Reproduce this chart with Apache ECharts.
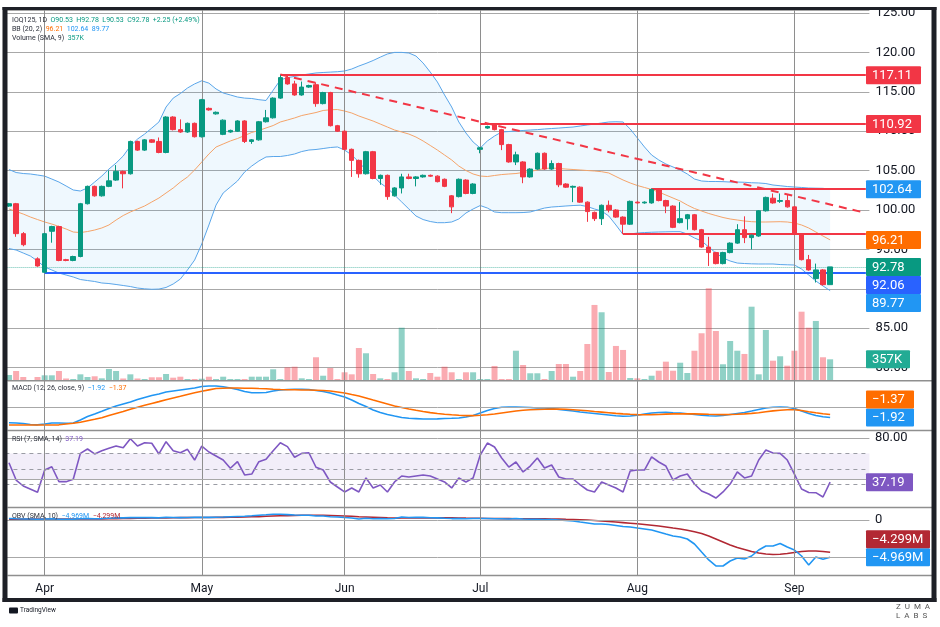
<!DOCTYPE html>
<html>
<head>
<meta charset="utf-8">
<script src="https://cdn.jsdelivr.net/npm/echarts@6/dist/echarts.min.js"></script>
<style>
  html, body { margin: 0; padding: 0; background: #fff; }
  #chart { width: 940px; height: 627px; }
</style>
</head>
<body>
<div id="chart"></div>
<script>
// daily bars, months in order
const monthNames = ['Mar', 'Apr', 'May', 'Jun', 'Jul', 'Aug', 'Sep'];
const monthCounts = [5, 22, 20, 19, 22, 22, 6];
const rightPad = 5;

const opens = [100.5, 100.8, 97.0, null, 93.8, 92.1, 97.3, 97.9, 93.7, 93.6,
  94.1, 100.8, 103.0, 101.8, 103.0, 103.8, 104.9, 104.6, 108.7, 107.6,
  108.9, 108.7, 107.3, 111.8, 110.2, 109.9, 111.0, 109.3, 112.9, 112.2,
  109.6, 109.9, 110.0, 111.3, 108.7, 108.9, 111.2, 111.7, 114.2, 116.8,
  116.0, 114.6, 115.6, 115.9, 113.5, 114.9, 110.7, 110.0, 107.7, 106.3,
  104.6, 107.4, 104.0, 104.4, 101.8, 102.8, 104.2, 104.0, 104.2, 104.4,
  104.3, 103.9, 101.8, 101.7, 103.8, 102.1, 107.7, 110.4, 110.9, 110.2,
  108.3, 106.1, 106.1, 104.2, 105.2, 107.2, 105.2, 105.9, 103.3, 102.9,
  102.9, 101.0, 99.7, 98.9, 100.6, 100.0, 99.1, 98.2, 101.0, 100.9,
  100.9, 102.6, 101.2, 100.5, 98.4, 98.9, 99.4, 97.5, 95.3, 94.6,
  93.2, 94.6, 95.8, 97.5, 96.5, 96.7, 99.9, 101.5, 101.1, 101.2,
  100.4, 96.9, 93.7, 91.3, 92.4, 90.53];
const closes = [100.8, 97.0, 95.6, null, 92.9, 97.0, 97.9, 93.6, 93.6, 94.1,
  100.8, 103.0, 101.8, 103.0, 103.7, 104.9, 104.6, 108.7, 107.6, 108.9,
  108.6, 107.3, 111.8, 110.2, 109.9, 111.0, 109.3, 114.0, 112.7, 112.4,
  111.4, 110.1, 111.3, 108.7, 108.9, 111.2, 111.7, 114.2, 116.8, 116.0,
  114.6, 115.6, 115.8, 113.5, 114.9, 110.7, 110.0, 107.7, 106.3, 104.6,
  107.4, 104.0, 104.4, 101.7, 102.8, 104.2, 104.0, 104.2, 104.4, 104.3,
  103.6, 103.0, 100.4, 103.9, 102.1, 103.3, 107.9, 110.6, 110.2, 108.3,
  106.1, 107.0, 104.2, 105.2, 107.2, 105.2, 105.9, 103.2, 102.9, 103.0,
  101.0, 99.8, 98.9, 100.6, 100.0, 99.1, 98.2, 101.1, 100.9, 101.0,
  102.6, 101.2, 100.5, 97.8, 98.9, 99.4, 97.5, 95.3, 94.6, 93.2,
  94.6, 95.8, 97.5, 96.5, 96.8, 99.9, 101.6, 100.9, 101.2, 100.4,
  97.0, 93.7, 92.4, 92.4, 90.53, 92.78];
const lows = [100.4, 96.6, 95.4, null, 92.8, 92.06, 95.85, 93.5, 93.5, 93.5,
  94.0, 100.7, 101.7, 101.7, 102.9, 103.7, 102.75, 104.5, 107.5, 107.5,
  108.5, 107.2, 107.2, 110.1, 109.8, 109.8, 109.2, 109.2, 112.6, 112.1,
  109.5, 109.8, 109.9, 108.5, 108.4, 108.8, 111.1, 111.6, 114.1, 115.9,
  114.5, 114.5, 115.5, 113.1, 113.4, 110.6, 109.9, 107.6, 104.2, 104.1,
  104.5, 103.9, 103.2, 101.3, 101.7, 102.1, 103.9, 103.0, 104.1, 104.2,
  103.5, 102.9, 99.6, 101.6, 102.0, 102.0, 107.2, 110.3, 110.1, 107.6,
  106.0, 105.7, 103.4, 104.1, 105.1, 105.1, 105.1, 102.9, 102.8, 101.0,
  100.9, 98.5, 98.6, 98.1, 99.7, 99.0, 96.95, 98.1, 100.8, 100.8,
  100.8, 101.1, 99.6, 97.7, 98.3, 97.5, 97.4, 95.2, 92.9, 93.1,
  93.1, 94.5, 95.7, 95.8, 95.0, 96.6, 99.8, 100.8, 100.9, 100.3,
  96.9, 93.6, 92.3, 90.8, 90.4, 90.53];
const highs = [100.9, 100.9, 97.2, null, 94.0, 97.1, 98.0, 98.0, 93.8, 94.2,
  100.9, 103.1, 103.1, 103.1, 105.0, 105.7, 105.0, 108.8, 108.8, 109.0,
  109.0, 109.2, 111.9, 111.9, 111.5, 111.1, 111.1, 114.1, 113.0, 112.5,
  111.5, 110.2, 111.4, 111.4, 109.0, 111.3, 112.7, 114.3, 117.11, 117.0,
  116.4, 116.3, 115.9, 116.2, 115.0, 115.0, 110.8, 110.1, 107.8, 106.4,
  107.5, 107.5, 104.5, 104.5, 102.9, 104.6, 104.6, 104.3, 104.5, 104.5,
  104.4, 104.0, 101.9, 104.0, 103.9, 103.4, 108.0, 110.7, 110.92, 110.3,
  108.4, 107.4, 106.2, 105.3, 107.3, 107.3, 106.3, 106.0, 103.4, 103.1,
  103.0, 101.1, 99.8, 100.7, 101.2, 100.1, 99.2, 101.2, 101.1, 101.1,
  102.75, 102.7, 101.3, 100.6, 101.0, 99.5, 99.5, 97.6, 96.6, 94.7,
  94.7, 95.9, 98.2, 99.2, 96.9, 100.0, 101.7, 102.1, 102.1, 101.9,
  100.5, 97.0, 94.3, 93.2, 92.5, 92.78];

// volume, thousands
const volumes = [86, 155, 52, 0, 52, 81, 81, 155, 26, 17,
  98, 52, 64, 29, 190, 155, 26, 98, 26, 17,
  47, 47, 104, 40, 57, 17, 17, 22, 57, 17,
  57, 17, 17, 17, 57, 57, 57, 185, 17, 219,
  229, 29, 17, 392, 74, 207, 17, 133, 98, 552,
  461, 104, 29, 17, 133, 902, 155, 29, 17, 121,
  57, 229, 133, 17, 133, 133, 17, 17, 242, 17,
  17, 505, 259, 116, 116, 17, 155, 276, 276, 57,
  155, 621, 1294, 1168, 138, 587, 518, 35, 29, 17,
  74, 160, 316, 160, 298, 121, 505, 806, 1582, 845,
  271, 673, 505, 449, 1264, 98, 863, 333, 409, 247,
  505, 1178, 902, 1018, 392, 357];

// Bollinger (20, 2)
const bbUpper = [105.14, 104.76, 104.63, 104.57, 104.44, 104.3, 103.93, 103.55, 103.05, 102.54,
  102.41, 102.8, 103.55, 104.31, 105.2, 105.96, 106.85, 108.12, 109.0, 109.64,
  110.4, 111.17, 113.07, 114.2, 114.78, 115.48, 116.0, 116.4, 116.1, 115.36,
  114.85, 114.6, 114.34, 114.2, 114.15, 114.0, 113.9, 115.2, 116.5, 116.8,
  116.95, 117.13, 117.26, 117.39, 117.45, 117.5, 117.55, 117.64, 117.89, 118.27,
  118.6, 118.97, 119.4, 119.8, 120.0, 120.0, 119.92, 119.54, 118.65, 117.5,
  116.24, 114.6, 113.07, 111.17, 109.77, 108.63, 107.87, 108.76, 109.39, 109.9,
  109.96, 110.03, 110.09, 110.15, 110.2, 110.28, 110.34, 110.4, 110.47, 110.53,
  110.66, 110.79, 110.91, 111.04, 111.17, 111.2, 111.17, 110.28, 109.14, 108.0,
  106.98, 106.35, 105.84, 105.46, 105.08, 104.57, 103.93, 103.68, 103.62, 103.62,
  103.6, 103.55, 103.55, 103.52, 103.46, 103.43, 103.36, 103.17, 103.08, 102.98,
  102.92, 102.86, 102.79, 102.77, 102.75, 102.64];
const bbLower = [95.11, 94.92, 94.54, 94.16, 93.53, 92.77, 92.39, 92.0, 91.75, 91.5,
  91.18, 91.05, 90.93, 90.74, 90.67, 90.55, 90.42, 90.29, 90.1, 90.0,
  89.94, 89.97, 90.17, 90.61, 91.24, 92.39, 93.65, 95.69, 98.1, 100.63,
  102.16, 102.92, 103.68, 104.82, 105.58, 106.22, 106.73, 106.79, 106.79, 106.92,
  107.11, 107.42, 107.61, 107.68, 107.8, 107.93, 108.0, 107.61, 106.98, 106.09,
  105.08, 104.31, 103.43, 102.79, 101.9, 101.02, 100.13, 99.24, 98.79, 98.54,
  98.39, 98.39, 98.48, 98.86, 99.62, 100.13, 100.57, 100.25, 99.75, 99.66,
  99.66, 99.66, 99.68, 99.75, 100.0, 100.25, 100.38, 100.44, 100.51, 100.57,
  100.61, 100.44, 100.13, 99.87, 99.24, 98.1, 96.89, 96.95, 97.08, 97.14,
  97.18, 97.21, 97.23, 97.25, 97.25, 96.95, 96.45, 96.07, 95.3, 94.54,
  93.91, 93.53, 93.27, 93.21, 93.17, 93.15, 93.15, 93.15, 93.08, 93.05,
  93.02, 92.51, 91.75, 90.99, 90.36, 89.77];
const bbBasis = [100.13, 99.81, 99.49, 99.11, 98.79, 98.48, 98.22, 97.91, 97.59, 97.21,
  97.14, 97.27, 97.46, 97.72, 98.1, 98.73, 99.3, 99.75, 100.13, 100.51,
  101.02, 101.52, 102.16, 102.79, 103.55, 104.19, 105.08, 106.09, 107.11, 107.99,
  108.38, 108.76, 109.07, 109.45, 109.84, 110.09, 110.41, 110.72, 111.17, 111.42,
  111.68, 111.99, 112.18, 112.37, 112.63, 112.72, 112.75, 112.56, 112.31, 111.93,
  111.61, 111.29, 110.91, 110.53, 110.15, 109.9, 109.64, 109.26, 108.76, 108.19,
  107.61, 106.98, 106.35, 105.58, 105.01, 104.57, 104.31, 104.25, 104.38, 104.5,
  104.57, 104.63, 104.76, 104.89, 105.08, 105.27, 105.33, 105.27, 105.2, 105.14,
  105.08, 105.01, 104.95, 104.86, 104.7, 104.25, 103.81, 103.43, 103.11, 102.86,
  102.6, 102.28, 101.9, 101.52, 101.14, 100.63, 100.19, 99.87, 99.56, 99.3,
  99.05, 98.86, 98.73, 98.6, 98.52, 98.48, 98.48, 98.5, 98.52, 98.48,
  98.35, 98.1, 97.72, 97.21, 96.7, 96.21];

// MACD (12, 26, close, 9)
const macdLine = [-2.85, -2.91, -3.0, -3.18, -3.24, -3.09, -2.91, -2.91, -2.96, -2.91,
  -2.36, -1.73, -1.27, -0.78, -0.27, 0.18, 0.55, 0.91, 1.36, 1.73,
  2.09, 2.36, 2.73, 2.91, 3.09, 3.27, 3.45, 3.73, 3.82, 3.82,
  3.67, 3.45, 3.18, 2.82, 2.6, 2.6, 2.64, 2.91, 3.09, 3.18,
  3.22, 3.22, 3.18, 3.0, 2.82, 2.55, 2.18, 1.82, 1.27, 0.64,
  0.09, -0.55, -1.0, -1.36, -1.64, -1.91, -2.04, -2.11, -2.18, -2.18,
  -2.15, -2.09, -2.05, -2.0, -1.82, -1.55, -1.09, -0.64, -0.27, -0.05,
  0, 0, -0.04, -0.09, -0.18, -0.18, -0.27, -0.45, -0.58, -0.73,
  -0.91, -1.05, -1.18, -1.31, -1.45, -1.6, -1.69, -1.64, -1.51, -1.27,
  -1.09, -1.0, -0.96, -1.05, -1.09, -1.24, -1.36, -1.49, -1.6, -1.64,
  -1.55, -1.36, -1.18, -1.0, -0.73, -0.45, -0.18, -0.04, 0, -0.05,
  -0.27, -0.73, -1.18, -1.55, -1.78, -1.92];
const macdSignal = [-3.27, -3.27, -3.27, -3.27, -3.27, -3.27, -3.27, -3.24, -3.09, -2.96,
  -2.78, -2.49, -2.24, -1.95, -1.56, -1.18, -0.8, -0.4, -0.04, 0.31,
  0.65, 0.98, 1.33, 1.64, 1.95, 2.29, 2.58, 2.85, 3.11, 3.35,
  3.42, 3.45, 3.45, 3.42, 3.42, 3.36, 3.31, 3.24, 3.18, 3.15,
  3.13, 3.09, 3.09, 3.05, 3.0, 2.91, 2.73, 2.55, 2.27, 2.0,
  1.64, 1.27, 0.91, 0.55, 0.18, -0.09, -0.36, -0.6, -0.82, -1.02,
  -1.18, -1.31, -1.42, -1.51, -1.56, -1.56, -1.51, -1.4, -1.27, -1.09,
  -0.91, -0.73, -0.6, -0.51, -0.44, -0.4, -0.36, -0.38, -0.42, -0.49,
  -0.58, -0.69, -0.82, -0.93, -1.04, -1.15, -1.25, -1.33, -1.38, -1.4,
  -1.38, -1.35, -1.29, -1.25, -1.24, -1.24, -1.25, -1.29, -1.33, -1.36,
  -1.38, -1.36, -1.33, -1.25, -1.16, -1.04, -0.87, -0.71, -0.58, -0.51,
  -0.51, -0.64, -0.85, -1.05, -1.24, -1.37];

// RSI (7)
const rsi = [56.1, 39.3, 33.5, null, 27.4, 49, 52.2, 37.7, 37.7, 40,
  65.2, 69.4, 64.6, 67.8, 70.1, 72.3, 70.7, 79.4, 72.3, 75.5,
  75, 64.6, 76.5, 67.8, 65.8, 69.1, 58.7, 72.3, 66.5, 62.6,
  58.7, 50.7, 57.1, 44.2, 45.1, 57.1, 59.4, 67.8, 75.5, 71.7,
  61.4, 65.2, 65.8, 51.7, 49, 37.4, 32.5, 27.7, 31.6, 27.7,
  41.3, 31.6, 34.5, 27.7, 37.4, 43.2, 42.2, 43.2, 44.2, 43.2,
  40.3, 37.4, 31.6, 41.3, 37.4, 41.3, 63.6, 75.2, 71.4, 60.7,
  51.9, 56.8, 47.1, 52.9, 60.7, 51, 53.9, 42.2, 40.3, 40.3,
  34.5, 29.6, 27.7, 37.4, 34.5, 31.6, 27.7, 48.1, 49, 49,
  61.7, 56.8, 52.9, 39.3, 43.2, 45.1, 35.4, 28.6, 25.7, 21.8,
  27.7, 35.4, 47.1, 41.3, 43.2, 58.7, 68.4, 65.5, 65.2, 58.7,
  45.1, 30.6, 27.2, 27, 22.8, 37.19];
const rsiBands = [65, 50, 35];

// OBV, millions
const obv = [0.2, 0.16, 0.13, 0.13, 0.09, 0.13, 0.16, 0.11, 0.09, 0.12,
  0.16, 0.19, 0.16, 0.19, 0.24, 0.29, 0.28, 0.32, 0.32, 0.33,
  0.32, 0.29, 0.35, 0.33, 0.32, 0.33, 0.35, 0.36, 0.35, 0.36,
  0.39, 0.43, 0.47, 0.51, 0.56, 0.63, 0.69, 0.76, 0.76, 0.72,
  0.67, 0.64, 0.64, 0.53, 0.53, 0.44, 0.4, 0.33, 0.27, 0.13,
  0.23, 0.17, 0.19, 0.17, 0.21, 0.4, 0.33, 0.35, 0.35, 0.31,
  0.28, 0.23, 0.19, 0.2, 0.16, 0.2, 0.21, 0.2, 0.16, 0.16,
  0.13, 0.2, 0.13, 0.11, 0.11, 0.07, 0.07, 0, -0.07, -0.13,
  -0.27, -0.4, -0.53, -0.53, -0.6, -0.73, -0.87, -0.93, -1.07, -1.2,
  -1.33, -1.6, -1.87, -2.13, -2.27, -2.53, -3.2, -4.27, -5.33, -6.13,
  -6.13, -5.47, -5.07, -5.2, -4.8, -4.0, -3.47, -3.47, -3.13, -3.6,
  -4.0, -4.8, -6.0, -4.93, -5.24, -4.969];
const obvSma = [0.09, 0.11, 0.12, 0.12, 0.12, 0.13, 0.13, 0.13, 0.13, 0.13,
  0.13, 0.15, 0.15, 0.15, 0.16, 0.19, 0.2, 0.21, 0.24, 0.25,
  0.27, 0.28, 0.29, 0.31, 0.32, 0.32, 0.33, 0.33, 0.33, 0.35,
  0.35, 0.36, 0.37, 0.4, 0.43, 0.45, 0.49, 0.53, 0.56, 0.59,
  0.61, 0.63, 0.64, 0.64, 0.63, 0.6, 0.57, 0.53, 0.49, 0.44,
  0.4, 0.36, 0.32, 0.28, 0.25, 0.27, 0.27, 0.28, 0.28, 0.28,
  0.29, 0.29, 0.28, 0.27, 0.25, 0.24, 0.23, 0.21, 0.2, 0.19,
  0.19, 0.17, 0.17, 0.16, 0.16, 0.15, 0.13, 0.12, 0.09, 0.07,
  0.03, -0.01, -0.07, -0.13, -0.2, -0.27, -0.35, -0.43, -0.51, -0.6,
  -0.69, -0.8, -0.93, -1.07, -1.2, -1.37, -1.57, -1.8, -2.13, -2.53,
  -2.93, -3.33, -3.67, -3.93, -4.2, -4.4, -4.53, -4.6, -4.57, -4.47,
  -4.33, -4.2, -4.13, -4.13, -4.2, -4.299];

// drawn levels: [start bar, price]
const redLevels = [[38, 117.11], [66, 110.92], [90, 102.75], [86, 96.95]];
const supportLevel = [5, 92.06];
const trendLine = [[38, 117.2], [120, 99.63]];
const lastClose = 92.78;

const priceTags = [
  [117.11, '117.11', '#f23645'], [110.92, '110.92', '#f23645'], [102.64, '102.64', '#2196f3'],
  [96.21, '96.21', '#ff6d00'], [92.78, '92.78', '#089981'], [92.06, '92.06', '#2962ff'],
  [89.77, '89.77', '#2196f3']
];
const macdTags = [[-1.92, '\u22121.92', '#2196f3'], [-1.37, '\u22121.37', '#ff6d00']];
const obvTags = [[-4.969, '\u22124.969M', '#2196f3'], [-4.299, '\u22124.299M', '#b22833']];

// ---------------------------------------------------------------
const UP = '#089981', DOWN = '#f23645';
const FONT = 'Roboto';

const categories = [];
const monthStarts = [];
monthNames.forEach((m, k) => {
  if (k > 0) monthStarts.push(categories.length);
  for (let d = 1; d <= monthCounts[k]; d++) categories.push(m + ' ' + d);
});
for (let i = 0; i < rightPad; i++) categories.push('pad ' + i);

const candleData = opens.map((o, i) => o == null ? '-' : [o, closes[i], lows[i], highs[i]]);
const volData = volumes.map((v, i) => ({
  value: v || '-',
  itemStyle: { color: closes[i] >= opens[i] ? 'rgba(8,153,129,0.45)' : 'rgba(242,54,69,0.42)' }
}));
const bbWidth = bbUpper.map((u, i) => +(u - bbLower[i]).toFixed(2));

const monthLines = monthStarts.map(i => ({ xAxis: i }));
const gridLine = { color: '#a8a8a8', width: 1, type: 'solid' };
function hLines(values, style) {
  return values.map(v => ({ yAxis: v, lineStyle: style }));
}
function markLines(data) {
  return {
    silent: true, symbol: 'none', animation: false,
    label: { show: false },
    lineStyle: { color: '#8e8e8e', width: 1, type: 'solid' },
    data: data
  };
}

const grids = [
  { left: 5.4, right: 70.6, top: 10, height: 370 },
  { left: 5.4, right: 70.6, top: 381, height: 49 },
  { left: 5.4, right: 70.6, top: 431, height: 76 },
  { left: 5.4, right: 70.6, top: 508, height: 67 }
];

const xAxes = grids.map((g, k) => ({
  type: 'category', gridIndex: k, data: categories, boundaryGap: true,
  axisLine: { show: false }, axisTick: { show: false }, splitLine: { show: false },
  axisLabel: k === 3 ? {
    interval: (i) => monthStarts.includes(i),
    formatter: (v) => v.split(' ')[0],
    color: '#131722', fontSize: 12, margin: 8, fontFamily: FONT
  } : { show: false }
}));

const option = {
  animation: false,
  backgroundColor: '#fff',
  textStyle: { fontFamily: FONT },
  grid: grids,
  xAxis: xAxes,
  yAxis: [
    {
      gridIndex: 0, type: 'value', position: 'right', min: 78.43, max: 125.38, splitNumber: 9,
      axisLine: { show: false }, axisTick: { show: false },
      axisLabel: {
        formatter: (v) => Math.abs(v / 5 - Math.round(v / 5)) < 1e-6 ? v.toFixed(2) : '',
        color: '#131722', fontSize: 13, margin: 6, fontFamily: FONT
      },
      splitLine: { lineStyle: { color: '#a8a8a8' } }
    },
    { gridIndex: 0, type: 'value', min: 0, max: 6380, show: false },
    { gridIndex: 1, type: 'value', min: -4.18, max: 4.727, show: false },
    { gridIndex: 2, type: 'value', min: 13.1, max: 86.9, show: false },
    { gridIndex: 3, type: 'value', min: -7.333, max: 1.6, show: false }
  ],
  series: [
    {
      type: 'line', data: bbLower, stack: 'bb', symbol: 'none', silent: true, z: 1,
      lineStyle: { opacity: 0 },
      markLine: markLines(monthLines)
    },
    {
      type: 'line', data: bbWidth, stack: 'bb', symbol: 'none', silent: true, z: 1,
      lineStyle: { opacity: 0 }, areaStyle: { color: 'rgba(33,150,243,0.07)', opacity: 1 }
    },
    {
      type: 'bar', xAxisIndex: 0, yAxisIndex: 1, data: volData, barWidth: 6, silent: true, z: 2
    },
    {
      type: 'line', data: bbUpper, symbol: 'none', silent: true, z: 3,
      lineStyle: { color: '#5aa6ea', width: 1 }
    },
    {
      type: 'line', data: bbLower, symbol: 'none', silent: true, z: 3,
      lineStyle: { color: '#5aa6ea', width: 1 }
    },
    {
      type: 'line', data: bbBasis, symbol: 'none', silent: true, z: 3,
      lineStyle: { color: '#f5a46a', width: 1 }
    },
    {
      type: 'candlestick', data: candleData, barWidth: 5, silent: true, z: 5,
      itemStyle: { color: UP, color0: DOWN, borderColor: UP, borderColor0: DOWN, borderWidth: 1 },
      markLine: markLines([
        ...redLevels.map(([s, p]) => [
          { coord: [s, p], lineStyle: { color: '#f23645', width: 2 } },
          { coord: [categories.length - 1, p] }
        ]),
        [
          { coord: supportLevel, lineStyle: { color: '#2962ff', width: 2 } },
          { coord: [categories.length - 1, supportLevel[1]] }
        ],
        [
          { coord: trendLine[0], lineStyle: { color: '#f23645', width: 2, type: [8, 6] } },
          { coord: trendLine[1] }
        ],
        { yAxis: lastClose, lineStyle: { color: '#089981', width: 1, type: 'dotted', opacity: 0.6 } }
      ])
    },
    {
      type: 'line', xAxisIndex: 1, yAxisIndex: 2, data: macdLine, symbol: 'none', silent: true,
      lineStyle: { color: '#2196f3', width: 1.6 }, z: 4,
      markLine: markLines([...monthLines, ...hLines([0], gridLine)])
    },
    {
      type: 'line', xAxisIndex: 1, yAxisIndex: 2, data: macdSignal, symbol: 'none', silent: true,
      lineStyle: { color: '#ff6d00', width: 1.6 }, z: 4
    },
    {
      type: 'line', xAxisIndex: 2, yAxisIndex: 3, data: rsi, symbol: 'none', silent: true,
      connectNulls: true, lineStyle: { color: '#7e57c2', width: 1.6 }, z: 4,
      markArea: {
        silent: true, itemStyle: { color: 'rgba(126,87,194,0.1)' },
        data: [[{ yAxis: 40 }, { yAxis: rsiBands[0] }]]
      },
      markLine: markLines([
        ...monthLines,
        ...hLines([80, 40], gridLine),
        ...hLines(rsiBands, { color: '#9a9ca4', width: 1, type: [4, 4] })
      ])
    },
    {
      type: 'line', xAxisIndex: 3, yAxisIndex: 4, data: obvSma, symbol: 'none', silent: true,
      lineStyle: { color: '#b22833', width: 1.6 }, z: 4,
      markLine: markLines([...monthLines, ...hLines([0, -5], gridLine)])
    },
    {
      type: 'line', xAxisIndex: 3, yAxisIndex: 4, data: obv, symbol: 'none', silent: true,
      lineStyle: { color: '#2196f3', width: 1.6 }, z: 4
    }
  ]
};

const chart = echarts.init(document.getElementById('chart'));
chart.setOption(option);

// price tags on the right scale, stacked so they do not overlap
function tags(list, axis, width, dir) {
  const h = 18;
  const items = list.map(([v, text, color]) => ({
    text, color, y: chart.convertToPixel({ yAxisIndex: axis }, v)
  }));
  items.sort((a, b) => dir > 0 ? a.y - b.y : b.y - a.y);
  let edge = dir > 0 ? -Infinity : Infinity;
  const out = [];
  items.forEach(t => {
    let top;
    if (dir > 0) { top = Math.max(t.y - h / 2, edge); edge = top + h; }
    else { top = Math.min(t.y - h / 2, edge - h); edge = top; }
    out.push({ type: 'rect', z: 60, shape: { x: 866, y: top, width: width, height: h, r: 1 }, style: { fill: t.color } });
    out.push({
      type: 'text', z: 61,
      style: { text: t.text, x: 872, y: top + h / 2 + 0.5, fill: '#fff', fontSize: 13, fontFamily: FONT, verticalAlign: 'middle' }
    });
  });
  return out;
}

function axisText(axis, v, text) {
  return {
    type: 'text', z: 55,
    style: { text, x: 875, y: chart.convertToPixel({ yAxisIndex: axis }, v), fill: '#131722', fontSize: 13, fontFamily: FONT, verticalAlign: 'middle' }
  };
}

const legendColors = { t: '#2a2e39', g: '#089981', o: '#ff6d00', b: '#2196f3', p: '#7e57c2', r: '#b22833' };
const legendRich = {};
Object.keys(legendColors).forEach(k => { legendRich[k] = { fill: legendColors[k], fontSize: 7, fontFamily: FONT }; });
function legend(y, parts) {
  return {
    type: 'text', z: 70,
    style: {
      text: parts.map(([k, s]) => '{' + k + '|' + s + '}').join('  '),
      rich: legendRich, x: 12, y: y, fontSize: 7, fontFamily: FONT, verticalAlign: 'middle', fill: '#2a2e39'
    }
  };
}

function sep(y) {
  return { type: 'line', z: 80, shape: { x1: 7.5, y1: y, x2: 932, y2: y }, style: { stroke: '#8f8f8f', lineWidth: 1.5 } };
}

const frameColor = '#1e2027';
chart.setOption({
  graphic: [
    ...tags(priceTags, 0, 55, 1),
    ...tags([[357, '357K', '#22ab94']], 1, 44, 1),
    ...tags(macdTags, 2, 48, -1),
    ...tags([[37.19, '37.19', '#7e57c2']], 3, 47, 1),
    ...tags(obvTags, 4, 64, -1),
    axisText(3, 80, '80.00'),
    axisText(4, 0, '0'),
    legend(20, [['t', 'IOQ125, 1D'], ['g', 'O90.53'], ['g', 'H92.78'], ['g', 'L90.53'], ['g', 'C92.78'], ['g', '+2.25 (+2.49%)']]),
    legend(29, [['t', 'BB (20, 2)'], ['o', '96.21'], ['b', '102.64'], ['b', '89.77']]),
    legend(38, [['t', 'Volume (SMA, 9)'], ['g', '357K']]),
    legend(388, [['t', 'MACD (12, 26, close, 9)'], ['b', '\u22121.92'], ['o', '\u22121.37']]),
    legend(439, [['t', 'RSI (7, SMA, 14)'], ['p', '37.19']]),
    legend(516.5, [['t', 'OBV (SMA, 10)'], ['b', '\u22124.969M'], ['r', '\u22124.299M']]),
    sep(380.7), sep(430.5), sep(507.5), sep(575.5),
    { type: 'rect', z: 90, shape: { x: 0, y: 0, width: 940, height: 7 }, style: { fill: '#fff' } },
    { type: 'rect', z: 95, shape: { x: 2.5, y: 7, width: 934, height: 3 }, style: { fill: frameColor } },
    { type: 'rect', z: 95, shape: { x: 2.5, y: 7, width: 5, height: 595 }, style: { fill: frameColor } },
    { type: 'rect', z: 95, shape: { x: 931.5, y: 7, width: 5, height: 595 }, style: { fill: frameColor } },
    { type: 'rect', z: 95, shape: { x: 2.5, y: 598, width: 934, height: 4 }, style: { fill: frameColor } },
    { type: 'rect', z: 95, shape: { x: 9, y: 607.5, width: 9, height: 6, r: 1 }, style: { fill: '#131722' } },
    { type: 'text', z: 95, style: { text: 'TradingView', x: 20, y: 610.5, fontSize: 6.5, fontFamily: FONT, fill: '#131722', verticalAlign: 'middle' } },
    { type: 'text', z: 95, style: { text: 'Z  U  M  A', x: 896, y: 607, fontSize: 8, fontFamily: FONT, fill: '#555', verticalAlign: 'middle' } },
    { type: 'text', z: 95, style: { text: 'L  A  B  S', x: 896, y: 616, fontSize: 8, fontFamily: FONT, fill: '#555', verticalAlign: 'middle' } }
  ]
});
</script>
</body>
</html>
